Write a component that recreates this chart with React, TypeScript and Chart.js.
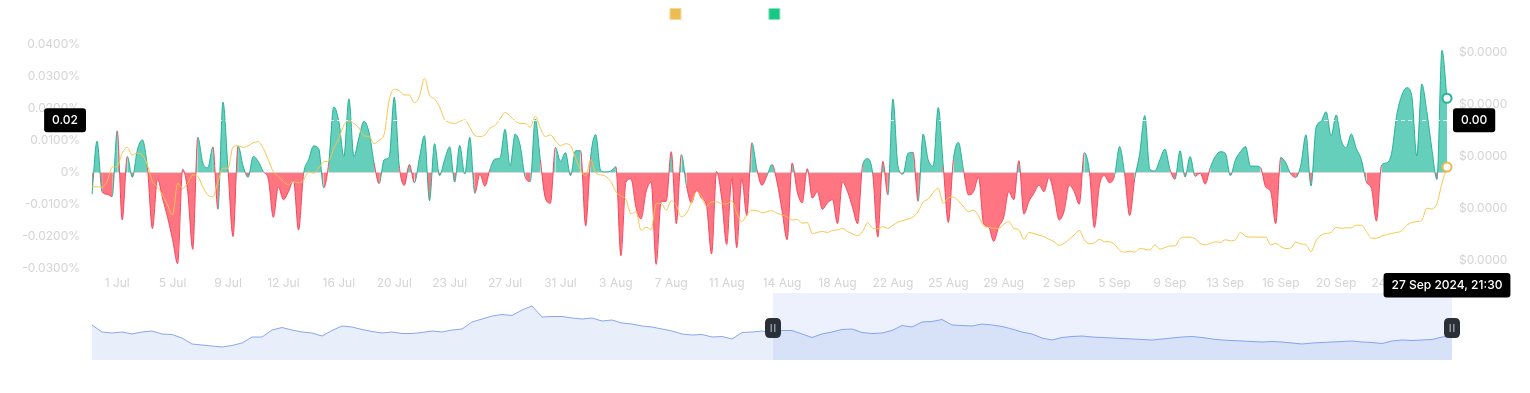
import React, { useEffect, useRef } from 'react';
import { Chart, registerables } from 'chart.js';

Chart.register(...registerables);

// ---------- data ----------
const tickLabels = ['1 Jul', '5 Jul', '9 Jul', '12 Jul', '16 Jul', '20 Jul', '23 Jul', '27 Jul', '31 Jul', '3 Aug', '7 Aug', '11 Aug', '14 Aug', '18 Aug', '22 Aug', '25 Aug', '29 Aug', '2 Sep', '5 Sep', '9 Sep', '13 Sep', '16 Sep', '20 Sep', '24 Sep'];
const firstTickIndex = 5;
const tickEvery = 11;

// funding rate, in percent (8h intervals)
const fundingRate = [
  -0.0068, 0.0098, -0.0060, -0.0068, -0.0075, 0.0130, -0.0148, 0.0050, -0.0015, 0.0070,
  0.0102, 0.0015, -0.0175, -0.0020, -0.0080, -0.0140, -0.0210, -0.0285, 0.0010, -0.0060,
  -0.0240, 0.0110, 0.0030, 0.0015, 0.0080, -0.0115, 0.0220, 0.0010, -0.0200, 0.0083,
  0.0020, -0.0015, 0.0050, 0.0035, 0.0003, -0.0020, -0.0140, -0.0045, -0.0085, -0.0060,
  -0.0025, -0.0180, -0.0005, 0.0040, 0.0083, 0.0075, -0.0048, 0.0030, 0.0205, 0.0160,
  0.0050, 0.0230, 0.0050, 0.0110, 0.0160, 0.0125, 0.0030, -0.0035, 0.0040, 0.0048,
  0.0235, 0.0020, -0.0040, 0.0025, -0.0032, 0.0045, 0.0115, -0.0088, 0.0090, -0.0010,
  0.0040, 0.0080, -0.0030, 0.0085, -0.0005, 0.0110, -0.0065, -0.0005, -0.0043, 0.0010,
  0.0042, 0.0045, 0.0135, 0.0020, 0.0120, 0.0085, -0.0015, -0.0028, 0.0167, 0.0040,
  -0.0080, -0.0096, 0.0078, 0.0035, 0.0062, -0.0010, 0.0068, 0.0068, -0.0167, 0.0050,
  0.0118, 0.0005, 0.0002, 0.0005, 0.0018, -0.0260, -0.0030, -0.0020, -0.0110, -0.0145,
  -0.0060, -0.0030, -0.0287, -0.0090, -0.0090, 0.0065, -0.0160, 0.0056, -0.0040, -0.0095,
  -0.0055, -0.0080, -0.0105, -0.0255, 0.0003, -0.0080, -0.0225, -0.0020, -0.0235, -0.0020,
  -0.0135, 0.0093, 0.0010, -0.0040, -0.0010, 0.0025, -0.0030, -0.0120, -0.0210, 0.0030,
  -0.0060, -0.0095, 0.0012, -0.0080, -0.0060, -0.0115, -0.0095, -0.0085, -0.0160, -0.0030,
  -0.0060, -0.0110, -0.0160, 0.0025, 0.0043, -0.0005, -0.0202, 0.0035, -0.0070, 0.0230,
  0.0020, -0.0005, 0.0060, 0.0063, -0.0090, 0.0120, 0.0040, 0.0020, 0.0203, 0.0020,
  -0.0156, 0.0040, 0.0094, 0.0010, -0.0070, -0.0060, -0.0015, -0.0160, -0.0170, -0.0215,
  -0.0170, -0.0140, -0.0060, -0.0085, 0.0037, -0.0130, -0.0090, -0.0065, -0.0040, -0.0060,
  -0.0015, -0.0070, -0.0148, -0.0120, -0.0040, -0.0060, -0.0099, 0.0062, 0.0005, -0.0172,
  -0.0040, -0.0010, -0.0032, -0.0010, 0.0081, -0.0005, -0.0135, -0.0020, 0.0060, 0.0178,
  0.0010, 0.0005, 0.0040, 0.0073, 0.0010, -0.0021, 0.0068, -0.0014, 0.0050, -0.0012,
  -0.0002, -0.0036, 0.0015, 0.0050, 0.0065, 0.0060, -0.0010, 0.0040, 0.0065, 0.0081,
  0.0020, 0.0020, 0.0015, -0.0045, -0.0060, -0.0160, 0.0047, 0.0030, -0.0005, -0.0015,
  0.0025, 0.0118, -0.0042, 0.0140, 0.0160, 0.0190, 0.0115, 0.0180, 0.0100, 0.0078,
  0.0120, 0.0075, 0.0040, -0.0030, -0.0050, -0.0152, 0.0023, 0.0030, 0.0060, 0.0177,
  0.0240, 0.0265, 0.0240, 0.0052, 0.0276, 0.0190, 0.0073, -0.0022, 0.0382, 0.0232,
];

// price, in millionths of a dollar
const price = [
  11.41, 11.41, 11.40, 11.51, 11.79, 11.80, 12.06, 12.17, 12.02, 12.06,
  12.02, 11.83, 11.51, 11.41, 11.25, 11.06, 10.87, 11.48, 11.38, 11.48,
  11.64, 11.61, 11.41, 11.25, 11.22, 11.51, 11.77, 11.77, 12.18, 12.20,
  12.17, 12.20, 12.26, 12.28, 12.15, 11.93, 11.70, 11.61, 11.51, 11.45,
  11.51, 11.49, 11.54, 11.70, 11.67, 11.77, 11.89, 11.91, 12.15, 12.34,
  12.60, 12.68, 12.63, 12.54, 12.39, 12.38, 12.24, 12.31, 12.42, 13.08,
  13.29, 13.26, 13.18, 13.18, 13.03, 13.15, 13.50, 13.18, 13.10, 12.95,
  12.71, 12.65, 12.63, 12.67, 12.70, 12.56, 12.40, 12.38, 12.41, 12.54,
  12.59, 12.72, 12.84, 12.77, 12.68, 12.63, 12.63, 12.56, 12.77, 12.54,
  12.38, 12.41, 12.30, 12.20, 12.24, 12.20, 11.96, 11.73, 11.62, 11.93,
  11.68, 11.64, 11.61, 11.51, 11.32, 11.23, 11.17, 10.89, 10.93, 10.57,
  10.63, 10.59, 11.08, 11.09, 10.96, 11.14, 11.05, 10.83, 10.90, 11.10,
  11.32, 11.22, 11.03, 11.12, 11.12, 11.08, 11.08, 11.14, 10.90, 10.74,
  10.87, 10.96, 10.95, 10.91, 10.93, 10.95, 10.90, 10.87, 10.83, 10.77,
  10.78, 10.71, 10.72, 10.51, 10.53, 10.55, 10.53, 10.57, 10.58, 10.61,
  10.55, 10.50, 10.47, 10.55, 10.72, 10.61, 10.60, 10.64, 10.61, 10.67,
  10.73, 10.76, 10.79, 10.83, 10.93, 11.12, 11.17, 11.30, 11.38, 11.09,
  11.20, 11.21, 11.14, 11.03, 10.93, 10.96, 10.85, 10.66, 10.63, 10.61,
  10.61, 10.69, 10.74, 10.61, 10.58, 10.40, 10.53, 10.51, 10.48, 10.45,
  10.40, 10.35, 10.28, 10.32, 10.40, 10.48, 10.57, 10.39, 10.31, 10.33,
  10.40, 10.35, 10.35, 10.30, 10.19, 10.15, 10.17, 10.15, 10.22, 10.21,
  10.19, 10.29, 10.21, 10.24, 10.27, 10.27, 10.41, 10.44, 10.44, 10.41,
  10.32, 10.29, 10.32, 10.35, 10.34, 10.39, 10.37, 10.39, 10.53, 10.46,
  10.44, 10.44, 10.44, 10.44, 10.29, 10.32, 10.26, 10.22, 10.23, 10.34,
  10.31, 10.29, 10.16, 10.37, 10.48, 10.51, 10.53, 10.63, 10.61, 10.62,
  10.62, 10.67, 10.67, 10.55, 10.42, 10.42, 10.46, 10.49, 10.51, 10.53,
  10.56, 10.67, 10.72, 10.74, 10.77, 11.00, 10.98, 11.09, 11.48, 11.79,
];

// navigator (overview) series
const navigatorSeries = [
  35, 28, 27, 28, 26, 28, 29, 26, 25.5, 22,
  16, 15, 14, 13, 14.5, 17, 23, 23, 30, 32.5,
  30, 28, 27, 24, 29.5, 34, 33, 30.5, 28.5, 27,
  28, 26.5, 26.5, 27.5, 29, 28, 30, 31, 38, 41,
  44, 45.5, 44.5, 50, 54, 43, 43.5, 43.5, 42, 41,
  42, 39, 40, 37, 36, 34, 33, 31, 29, 26,
  25, 25.5, 23, 23.5, 21, 27.5, 28, 29, 27, 29.5,
  29.5, 26, 22.5, 26, 28, 30.5, 31, 27.5, 26.5, 27,
  29.5, 34.5, 33, 38, 38.5, 40.5, 35, 34.5, 34, 36,
  35, 33.5, 31, 28, 26, 22, 20, 22.5, 23.5, 24,
  23, 22.5, 22, 21.5, 21, 20.5, 20, 21, 22, 23,
  23.5, 22.5, 21, 20, 19.5, 19, 18.5, 18, 18.5, 18,
  17, 16, 17, 17.5, 18, 18.5, 19, 18, 17.5, 16.5,
  19, 20, 19.5, 20, 20.5, 23, 24,
];
const navigatorWindow = [68.1, 136];

const hoverIndex = 269;
const hoverTimeLabel = '27 Sep 2024, 21:30';
const crosshairRate = 0.0163;

// ---------- styles ----------
const FONT = 'Inter, "Noto Sans", sans-serif';
const TICK_COLOR = '#d4d4d4';
const GREEN_LINE = '#24b396';
const GREEN_FILL = '#66cfbb';
const RED_LINE = '#f6465d';
const RED_FILL = '#ff7582';
const YELLOW_LINE = '#f7c54a';
const YELLOW_MARK = '#ebb84a';

const categories = fundingRate.map((_, i) => {
  const k = i - firstTickIndex;
  return k >= 0 && k % tickEvery === 0 && tickLabels[k / tickEvery] ? tickLabels[k / tickEvery] : '';
});

function roundRect(ctx: CanvasRenderingContext2D, x: number, y: number, w: number, h: number, r: number) {
  ctx.beginPath();
  ctx.moveTo(x + r, y);
  ctx.lineTo(x + w - r, y);
  ctx.quadraticCurveTo(x + w, y, x + w, y + r);
  ctx.lineTo(x + w, y + h - r);
  ctx.quadraticCurveTo(x + w, y + h, x + w - r, y + h);
  ctx.lineTo(x + r, y + h);
  ctx.quadraticCurveTo(x, y + h, x, y + h - r);
  ctx.lineTo(x, y + r);
  ctx.quadraticCurveTo(x, y, x + r, y);
  ctx.closePath();
}

function labelBox(ctx: CanvasRenderingContext2D, text: string, x: number, yCenter: number, align: 'left' | 'right' | 'center', h = 24) {
  ctx.font = '500 12px ' + FONT;
  const tw = ctx.measureText(text).width;
  const w = tw + 16;
  let left = x;
  if (align === 'right') left = x - w;
  if (align === 'center') left = x - w / 2;
  ctx.fillStyle = '#000000';
  roundRect(ctx, left, yCenter - h / 2, w, h, 3);
  ctx.fill();
  ctx.fillStyle = '#ffffff';
  ctx.textAlign = 'center';
  ctx.textBaseline = 'middle';
  ctx.fillText(text, left + w / 2, yCenter + 0.5);
}

const legendHeightPlugin = {
  id: 'legendHeight',
  beforeLayout(chart: any) {
    const lg = chart.legend;
    if (lg && !lg._patched) {
      const fit = lg.fit;
      lg.fit = function () {
        fit.call(this);
        this.height = 44.5;
      };
      lg._patched = true;
    }
  },
};

const crosshairPlugin = {
  id: 'crosshair',
  afterDraw(chart: any) {
    const { ctx, chartArea: ca, scales } = chart;
    const y = scales.yL.getPixelForValue(crosshairRate);
    const x = scales.x.getPixelForValue(hoverIndex);
    ctx.save();
    ctx.strokeStyle = 'rgba(255,255,255,0.85)';
    ctx.lineWidth = 1;
    ctx.setLineDash([4, 3]);
    ctx.beginPath();
    ctx.moveTo(ca.left, Math.round(y) + 0.5);
    ctx.lineTo(ca.right, Math.round(y) + 0.5);
    ctx.stroke();
    ctx.setLineDash([]);
    labelBox(ctx, crosshairRate.toFixed(2), ca.left - 6, y, 'right');
    const p = scales.yR.getValueForPixel(y) / 1e6;
    labelBox(ctx, p.toFixed(2), ca.right + 6, y, 'left');
    labelBox(ctx, hoverTimeLabel, x, ca.bottom + 16.8, 'center', 24.5);
    ctx.restore();
  },
};

const navigatorPlugin = {
  id: 'navWindow',
  afterDatasetsDraw(chart: any) {
    const { ctx, chartArea: ca, scales } = chart;
    const x0 = scales.x.getPixelForValue(navigatorWindow[0]);
    const x1 = scales.x.getPixelForValue(navigatorWindow[1]);
    ctx.save();
    ctx.fillStyle = 'rgba(100,140,240,0.12)';
    ctx.fillRect(x0, ca.top, x1 - x0, ca.bottom - ca.top);
    const cy = ca.top + 35;
    [x0, x1].forEach((hx) => {
      ctx.fillStyle = '#2b2f38';
      roundRect(ctx, hx - 8, cy - 10, 16, 20, 5);
      ctx.fill();
      ctx.strokeStyle = '#a9afba';
      ctx.lineWidth = 1.2;
      ctx.beginPath();
      ctx.moveTo(hx - 1.8, cy - 4);
      ctx.lineTo(hx - 1.8, cy + 4);
      ctx.moveTo(hx + 1.8, cy - 4);
      ctx.lineTo(hx + 1.8, cy + 4);
      ctx.stroke();
    });
    ctx.restore();
  },
};

export default function App() {
  const mainRef = useRef<HTMLCanvasElement | null>(null);
  const navRef = useRef<HTMLCanvasElement | null>(null);

  useEffect(() => {
    if (!mainRef.current || !navRef.current) return;
    const tickFont = { family: FONT, size: 12 };

    const main = new Chart(mainRef.current, {
      type: 'line',
      data: {
        labels: categories,
        datasets: [
          {
            label: 'Price (USDT)',
            data: price,
            yAxisID: 'yR',
            borderColor: YELLOW_LINE,
            backgroundColor: '#ecbd52',
            borderWidth: 1,
            cubicInterpolationMode: 'monotone',
            fill: false,
            clip: false,
            order: 0,
            pointRadius: (c: any) => (c.dataIndex === hoverIndex ? 4.5 : 0),
            pointBackgroundColor: '#ffffff',
            pointBorderColor: YELLOW_MARK,
            pointBorderWidth: 2,
          },
          {
            label: 'Funding Rate',
            data: fundingRate,
            yAxisID: 'yL',
            borderColor: GREEN_LINE,
            backgroundColor: '#17c784',
            borderWidth: 1,
            cubicInterpolationMode: 'monotone',
            fill: { target: 'origin', above: GREEN_FILL, below: RED_FILL },
            segment: {
              borderColor: (c: any) => (c.p0.parsed.y + c.p1.parsed.y >= 0 ? GREEN_LINE : RED_LINE),
            },
            clip: false,
            order: 1,
            pointRadius: (c: any) => (c.dataIndex === hoverIndex ? 4.5 : 0),
            pointBackgroundColor: '#ffffff',
            pointBorderColor: GREEN_LINE,
            pointBorderWidth: 2,
          },
        ],
      },
      options: {
        responsive: false,
        animation: false,
        devicePixelRatio: 1,
        events: [],
        layout: { padding: 0 },
        plugins: {
          tooltip: { enabled: false },
          legend: {
            display: true,
            position: 'top',
            align: 'center',
            labels: {
              boxWidth: 11,
              boxHeight: 11,
              padding: 8,
              color: '#ffffff',
              font: { family: FONT, size: 12 },
              generateLabels: () => [
                { text: 'Price (USDT)', fillStyle: '#ecbd52', strokeStyle: '#f5d99a', lineWidth: 1, hidden: false, datasetIndex: 0, fontColor: '#ffffff' },
                { text: 'Funding Rate', fillStyle: '#17c784', strokeStyle: '#8be2bf', lineWidth: 1, hidden: false, datasetIndex: 1, fontColor: '#ffffff' },
              ],
            },
          },
        },
        scales: {
          x: {
            type: 'category',
            offset: false,
            grid: { display: false, drawTicks: false },
            border: { display: false },
            ticks: {
              autoSkip: false,
              maxRotation: 0,
              minRotation: 0,
              padding: 8,
              color: TICK_COLOR,
              font: tickFont,
            },
            afterFit: (s: any) => {
              s.height = 31.5;
            },
          },
          yL: {
            type: 'linear',
            position: 'left',
            min: -0.03,
            max: 0.04,
            grid: { display: false, drawTicks: false },
            border: { display: false },
            ticks: {
              stepSize: 0.01,
              padding: 12,
              color: TICK_COLOR,
              font: tickFont,
              callback: (v: any) => (Math.abs(v) < 1e-9 ? '0%' : Number(v).toFixed(4) + '%'),
            },
            afterFit: (s: any) => {
              s.width = 92;
            },
          },
          yR: {
            type: 'linear',
            position: 'right',
            min: 9.836,
            max: 14.152,
            grid: { display: false, drawTicks: false },
            border: { display: false },
            ticks: {
              stepSize: 1,
              includeBounds: false,
              padding: 12,
              color: TICK_COLOR,
              font: tickFont,
              callback: (v: any) => '$' + (Number(v) / 1e6).toFixed(4),
            },
            afterFit: (s: any) => {
              s.width = 83;
            },
          },
        },
      } as any,
      plugins: [legendHeightPlugin, crosshairPlugin],
    });

    const nav = new Chart(navRef.current, {
      type: 'line',
      data: {
        datasets: [
          {
            data: navigatorSeries.map((v, i) => ({ x: i, y: v })),
            borderColor: '#89a7f1',
            borderWidth: 1,
            backgroundColor: '#e8eefa',
            fill: 'origin',
            pointRadius: 0,
            tension: 0,
          },
        ],
      },
      options: {
        responsive: false,
        animation: false,
        devicePixelRatio: 1,
        events: [],
        layout: { padding: { left: 12, right: 20, top: 3, bottom: 2 } },
        plugins: { legend: { display: false }, tooltip: { enabled: false } },
        scales: {
          x: { type: 'linear', min: 0, max: navigatorSeries.length - 1, display: false },
          y: { type: 'linear', min: 0, max: 67, display: false },
        },
      } as any,
      plugins: [navigatorPlugin],
    });

    return () => {
      main.destroy();
      nav.destroy();
    };
  }, []);

  return (
    <div style={{ position: 'absolute', left: 0, top: 0, width: 1530, height: 393, background: '#ffffff' }}>
      <canvas ref={navRef} width={1392} height={72} style={{ position: 'absolute', left: 80, top: 290, width: 1392, height: 72 }} />
      <canvas ref={mainRef} width={1530} height={300} style={{ position: 'absolute', left: 0, top: 0, width: 1530, height: 300 }} />
    </div>
  );
}
